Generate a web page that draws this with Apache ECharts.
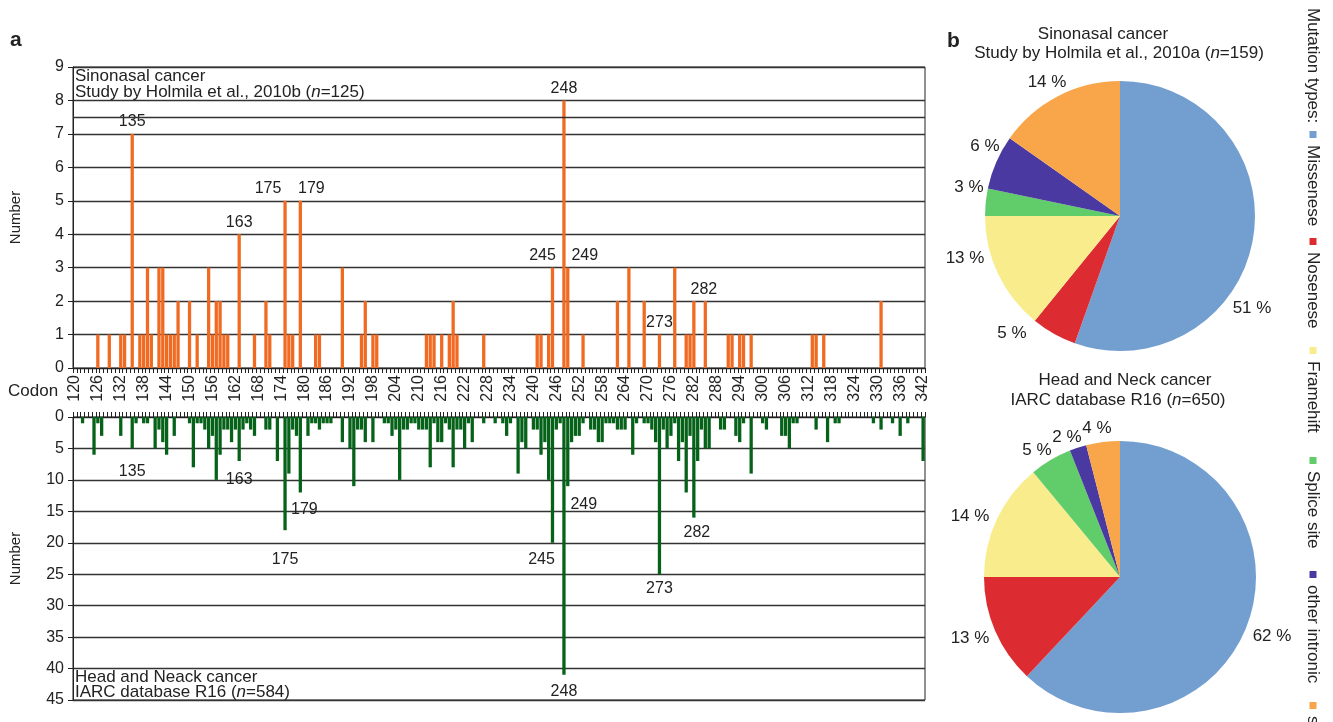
<!DOCTYPE html>
<html><head><meta charset="utf-8">
<script src="https://cdn.jsdelivr.net/npm/echarts@6/dist/echarts.min.js"></script>
<style>html,body{margin:0;padding:0;background:#fff}#chart{width:1333px;height:722px}</style>
</head><body><div id="chart"></div>
<script>
// p53 codon distribution (panel a) and mutation-type shares (panel b)
const FONT = '"Liberation Sans", Arial, Helvetica, sans-serif';

const firstCodon = 120, lastCodon = 342;
const codons = [];
for (let c = firstCodon; c <= lastCodon; c++) codons.push(String(c));

// [codon, number of mutations]
const sinonasalCounts = [
  [126,1],[129,1],[132,1],[133,1],[135,7],[137,1],[138,1],[139,3],[140,1],[142,3],[143,3],
  [144,1],[145,1],[146,1],[147,2],[150,2],[152,1],[155,3],[156,1],[157,2],[158,2],[159,1],
  [160,1],[163,4],[167,1],[170,2],[171,1],[175,5],[176,1],[177,1],[179,5],[183,1],[184,1],
  [190,3],[195,1],[196,2],[198,1],[199,1],[212,1],[213,1],[214,1],[216,1],[218,1],[219,2],
  [220,1],[227,1],[241,1],[242,1],[244,1],[245,3],[248,8],[249,3],[253,1],[262,2],[265,3],
  [269,2],[273,1],[277,3],[280,1],[281,1],[282,2],[285,2],[291,1],[292,1],[294,1],[295,1],
  [297,1],[313,1],[314,1],[316,1],[331,2]
];
const headNeckCounts = [
  [122,1],[125,6],[126,1],[127,3],[132,3],[135,5],[136,1],[138,1],[139,1],[141,5],[142,2],
  [143,4],[144,6],[146,3],[150,1],[151,8],[152,1],[153,1],[154,2],[155,5],[156,3],[157,10],
  [158,6],[159,2],[160,2],[161,4],[162,2],[163,7],[164,2],[165,1],[166,2],[167,3],[170,2],
  [171,2],[173,7],[175,18],[176,9],[177,2],[178,3],[179,12],[181,3],[182,1],[183,1],[184,2],
  [185,1],[186,1],[187,1],[190,4],[192,5],[193,11],[194,2],[195,2],[196,4],[198,4],[201,1],
  [202,1],[203,3],[204,2],[205,10],[206,2],[207,2],[208,1],[209,1],[210,2],[211,2],[212,2],
  [213,8],[214,1],[215,4],[216,4],[217,1],[218,2],[219,8],[220,2],[221,2],[222,5],[223,1],
  [224,4],[227,1],[230,1],[232,1],[233,3],[234,1],[236,9],[237,4],[238,5],[240,2],[241,2],
  [242,6],[243,4],[244,10],[245,20],[246,2],[247,1],[248,41],[249,11],[250,4],[251,3],[252,3],
  [253,1],[255,2],[256,2],[257,4],[258,4],[259,1],[260,1],[261,1],[262,2],[263,2],[264,2],
  [266,6],[267,1],[269,1],[270,1],[271,2],[272,4],[273,25],[274,2],[275,5],[276,3],[277,1],
  [278,7],[279,4],[280,12],[281,3],[282,16],[283,7],[284,2],[285,5],[286,5],[289,2],[290,2],
  [293,3],[294,4],[295,1],[297,9],[300,1],[301,2],[305,3],[306,3],[307,5],[308,1],[309,1],
  [314,2],[317,4],[319,1],[320,1],[329,1],[331,2],[334,1],[336,3],[338,1],[342,7]
];
const hotspotCodons = [135, 163, 175, 179, 245, 248, 249, 273, 282];

const mutationTypes = ['Missenese', 'Nosenese', 'Framehift', 'Splice site', 'other intronic', 'silent'];
const sinonasalPct = [51, 5, 13, 3, 6, 14];
const headNeckPct = [62, 13, 14, 5, 2, 4];
const typeColors = ['#739fd0', '#dc2c32', '#f9ec8c', '#61cc6a', '#4a39a0', '#f9a64a'];

// hotspot label nudges (px): [dx, dy]
const topLabelShift = {175: [-17, 0], 179: [11, 0], 245: [-10, 0], 249: [17, 0], 282: [10, 0]};
const bottomLabelShift = {135: [0, 15], 163: [0, 11], 175: [0, 21], 179: [4, 9], 245: [-11, 9],
  248: [0, 9], 249: [16, 10], 273: [0, 6], 282: [3, 7]};

// percentage label anchor points (px) for the two pies, in slice order
const pieLabelSpots = [
  [[1252, 308], [1012, 333], [965, 258], [969, 187], [985, 146], [1047, 82]],
  [[1272, 636], [970, 638], [970, 516], [1037, 450], [1067, 437], [1097, 428]]
];
// legend swatch offsets (px from the top edge), one per mutation type
const legendSwatchAt = [131, 238, 347, 457, 571, 702];

const INK = '#222';
const labelFont = {fontSize: 16, color: INK, fontFamily: FONT};

function buildBars(pairs, position, shifts) {
  const lookup = new Map(pairs);
  return codons.map(c => {
    const v = lookup.get(+c) || 0;
    if (hotspotCodons.indexOf(+c) < 0) return v;
    return {value: v, label: Object.assign({show: true, position: position, distance: position === 'top' ? 4 : 0,
      formatter: c, offset: shifts[+c] || [0, 0]}, labelFont)};
  });
}

const chart = echarts.init(document.getElementById('chart'), null, {renderer: 'canvas'});

// rotated legend (reads top to bottom along the right edge)
const LEGEND_SIZE = 17;
function legendText(x, s) {
  return {type: 'text', x: x, y: 0, style: {text: s, fontSize: LEGEND_SIZE, fontFamily: FONT, fill: INK,
    verticalAlign: 'middle', textVerticalAlign: 'middle'}};
}
const legendItems = [legendText(8, 'Mutation types:')];
mutationTypes.forEach((name, i) => {
  const at = legendSwatchAt[i];
  legendItems.push({type: 'rect', shape: {x: at, y: -3.5, width: 7, height: 7}, style: {fill: typeColors[i]}});
  legendItems.push(legendText(at + 14, name));
});

function txt(x, y, text, extra) {
  return {type: 'text', x: x, y: y, silent: true,
    style: Object.assign({text: text, fontSize: 17, fontFamily: FONT, fill: INK,
      verticalAlign: 'middle', textVerticalAlign: 'middle'}, extra || {})};
}
function richTxt(x, y, before, after, align) {
  return {type: 'text', x: x, y: y, silent: true, style: {
    text: '{r|' + before + '}{i|n}{r|' + after + '}',
    align: align, textAlign: align, verticalAlign: 'middle', textVerticalAlign: 'middle',
    rich: {r: {fontSize: 17, fontFamily: FONT, fill: INK, color: INK},
           i: {fontSize: 17, fontFamily: FONT, fontStyle: 'italic', fill: INK, color: INK}}}};
}

const valueAxisBase = {
  type: 'value',
  axisLine: {show: true, lineStyle: {color: INK, width: 1}},
  axisTick: {show: true, length: 5, lineStyle: {color: INK}},
  axisLabel: Object.assign({margin: 9}, labelFont),
  splitLine: {show: true, lineStyle: {color: '#333', width: 1.3}},
  name: 'Number', nameLocation: 'middle', nameGap: 50, nameRotate: 90,
  nameTextStyle: {fontSize: 15, color: INK, fontFamily: FONT}
};

function pieSeries(values, center, radius, spots) {
  return {
    type: 'pie', center: center, radius: radius, startAngle: 90, clockwise: true, silent: true,
    avoidLabelOverlap: false,
    data: mutationTypes.map((n, i) => ({name: n, value: values[i], itemStyle: {color: typeColors[i]}})),
    label: {show: true, position: 'outside', formatter: '{c} %', fontSize: 17, color: INK, fontFamily: FONT},
    labelLine: {show: false, length: 8, length2: 0},
    labelLayout: p => ({x: spots[p.dataIndex][0], y: spots[p.dataIndex][1], align: 'center', verticalAlign: 'middle'})
  };
}

const option = {
  animation: false,
  backgroundColor: '#fff',
  grid: [
    {left: 71, top: 67, width: 854, height: 301, show: true, borderColor: INK, borderWidth: 1},
    {left: 71, top: 417, width: 854, height: 283, show: true, borderColor: INK, borderWidth: 1}
  ],
  xAxis: [
    {type: 'category', gridIndex: 0, data: codons, boundaryGap: true,
     axisLine: {lineStyle: {color: INK, width: 1}},
     axisTick: {show: true, interval: 0, length: 5, lineStyle: {color: INK}},
     axisLabel: {interval: 5, rotate: 90, margin: 7, fontSize: 16, color: INK, fontFamily: FONT}},
    {type: 'category', gridIndex: 1, data: codons, boundaryGap: true, position: 'top',
     axisLine: {lineStyle: {color: INK, width: 1}},
     axisTick: {show: true, interval: 0, length: 5, lineStyle: {color: INK}},
     axisLabel: {show: false}}
  ],
  yAxis: [
    Object.assign({}, valueAxisBase, {gridIndex: 0, min: 0, max: 9, interval: 1}),
    Object.assign({}, valueAxisBase, {gridIndex: 1, min: 0, max: 45, interval: 5, inverse: true})
  ],
  series: [
    {type: 'bar', xAxisIndex: 0, yAxisIndex: 0, barWidth: '86%', silent: true,
     itemStyle: {color: '#f06a22'}, data: buildBars(sinonasalCounts, 'top', topLabelShift),
     markLine: {silent: true, symbol: 'none', label: {show: false},
       lineStyle: {color: '#333', type: 'solid', width: 1.3}, data: [{yAxis: 7.5}]}},
    {type: 'bar', xAxisIndex: 1, yAxisIndex: 1, barWidth: '86%', silent: true,
     itemStyle: {color: '#066219'}, data: buildBars(headNeckCounts, 'bottom', bottomLabelShift)},
    pieSeries(sinonasalPct, [1120, 216], 135, pieLabelSpots[0]),
    pieSeries(headNeckPct, [1120, 577], 136, pieLabelSpots[1])
  ],
  graphic: [
    txt(10, 40, 'a', {fontSize: 21, fontWeight: 'bold'}),
    txt(947, 41, 'b', {fontSize: 21, fontWeight: 'bold'}),
    txt(8, 391, 'Codon'),
    txt(75, 76, 'Sinonasal cancer'),
    richTxt(75, 92, 'Study by Holmila et al., 2010b (', '=125)', 'left'),
    txt(75, 677, 'Head and Neack cancer'),
    richTxt(75, 692, 'IARC database R16 (', '=584)', 'left'),
    txt(1103, 34, 'Sinonasal cancer', {align: 'center', textAlign: 'center'}),
    richTxt(1119, 53, 'Study by Holmila et al., 2010a (', '=159)', 'center'),
    txt(1125, 380, 'Head and Neck cancer', {align: 'center', textAlign: 'center'}),
    richTxt(1118, 400, 'IARC database R16 (', '=650)', 'center'),
    {type: 'group', x: 1313, y: 0, rotation: -Math.PI / 2, silent: true, children: legendItems}
  ]
};
chart.setOption(option);
</script>
</body></html>
